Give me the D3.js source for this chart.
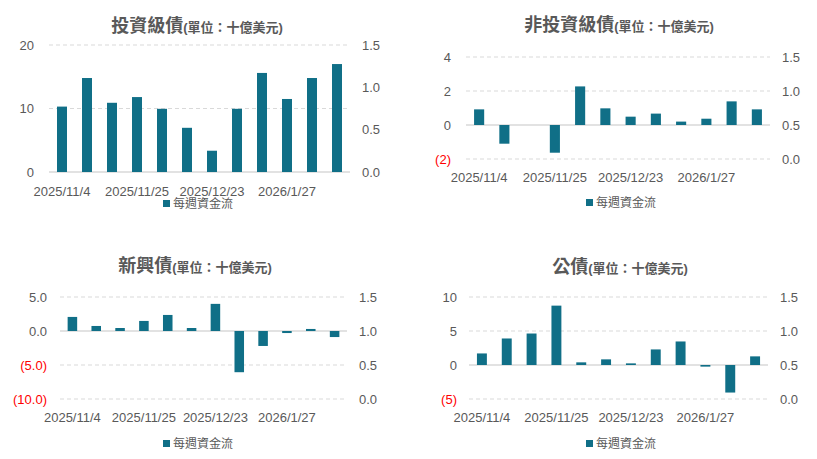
<!DOCTYPE html>
<html>
<head>
<meta charset="utf-8">
<script src="https://cdn.jsdelivr.net/npm/d3@7"></script>
<style>
  body { margin: 0; background: #fff; }
  svg text { font-family: "Liberation Sans", "Noto Sans CJK TC", sans-serif; fill: #595959; }
</style>
</head>
<body>
<div id="chart"></div>
<script>
// weekly dates (only every 3rd one is labelled on the axis)
const weeks = ["2025/11/4", "2025/11/11", "2025/11/18", "2025/11/25", "2025/12/2", "2025/12/9",
               "2025/12/23", "2025/12/30", "2026/1/13", "2026/1/27", "2026/2/3", "2026/2/10"];
const weekLabels = ["2025/11/4", "2025/11/25", "2025/12/23", "2026/1/27"];

// weekly fund flows, USD bn
const invGrade  = [10.3, 14.8, 10.9, 11.8, 9.95, 6.96, 3.35, 9.95, 15.6, 11.5, 14.8, 17.0];
const highYield = [0.92, -1.1, 0, -1.63, 2.27, 0.98, 0.49, 0.67, 0.2, 0.37, 1.39, 0.92];
const emerging  = [2.07, 0.74, 0.44, 1.48, 2.36, 0.44, 3.99, -6.06, -2.2, -0.3, 0.3, -0.89];
const govt      = [1.7, 3.9, 4.63, 8.73, 0.39, 0.83, 0.24, 2.29, 3.46, -0.24, -4.05, 1.27];

const leftTicks1 = [0, 10, 20];
const leftTicks2 = [-2, 0, 2, 4];
const leftTicks3 = [-10, -5, 0, 5];
const leftTicks4 = [-5, 0, 5, 10];
const rightTicks = [0, 0.5, 1.0, 1.5];

const unitText = "(單位：十億美元)";
const legendText = "每週資金流";

const barColor = "#106f87";

const svg = d3.select("#chart").append("svg")
    .attr("width", 817)
    .attr("height", 459);

function drawPanel(p) {
    let g = svg.append("g");

    let x = d3.scaleBand()
        .domain(weeks)
        .range([p.left, p.right])
        .paddingInner(0.6)
        .paddingOuter(0.32);

    let y = d3.scaleLinear()
        .domain([p.ticks[0], p.ticks[p.ticks.length - 1]])
        .range([p.bottom, p.top]);

    let yR = d3.scaleLinear()
        .domain([0, 1.5])
        .range([p.bottom, p.top]);

    // gridlines
    g.selectAll(".grid")
        .data(p.ticks)
        .enter().append("line")
        .attr("x1", p.left)
        .attr("x2", p.right)
        .attr("y1", d => y(d))
        .attr("y2", d => y(d))
        .attr("stroke", "#d9d9d9")
        .attr("stroke-width", d => d === 0 ? 1.3 : 1)
        .attr("stroke-dasharray", d => d === 0 ? null : "4,3");

    // bars
    g.selectAll(".bar")
        .data(p.values)
        .enter().append("rect")
        .attr("x", (d, i) => x(weeks[i]))
        .attr("width", x.bandwidth())
        .attr("y", d => y(Math.max(0, d)))
        .attr("height", d => Math.abs(y(d) - y(0)))
        .attr("fill", barColor);

    // left axis labels
    g.selectAll(".yl")
        .data(p.ticks)
        .enter().append("text")
        .attr("x", p.left - p.lOff)
        .attr("y", d => y(d))
        .attr("dy", "0.35em")
        .attr("text-anchor", "end")
        .style("font-size", "13px")
        .style("fill", d => d < 0 ? "#ff0000" : "#595959")
        .text(d => p.fmt(d));

    // right axis labels
    g.selectAll(".yr")
        .data(rightTicks)
        .enter().append("text")
        .attr("x", p.right + 12)
        .attr("y", d => yR(d))
        .attr("dy", "0.35em")
        .style("font-size", "13px")
        .text(d => d3.format(".1f")(d));

    // date labels
    g.selectAll(".xl")
        .data(weekLabels)
        .enter().append("text")
        .attr("x", d => x(d) + x.bandwidth() / 2)
        .attr("y", p.xLabelY)
        .attr("dy", "0.35em")
        .attr("text-anchor", "middle")
        .style("font-size", "13px")
        .text(d => d);

    // title
    let t = g.append("text")
        .attr("x", p.titleX)
        .attr("y", p.titleY)
        .attr("dy", "0.35em")
        .attr("text-anchor", "middle")
        .style("font-weight", "bold");
    t.append("tspan").style("font-size", "18px").text(p.title);
    t.append("tspan").style("font-size", "13px").text(unitText);

    // legend
    let lg = g.append("g")
        .attr("transform", "translate(" + p.legendX + "," + p.legendY + ")");
    lg.append("rect")
        .attr("x", -35).attr("y", -4)
        .attr("width", 7).attr("height", 7)
        .attr("fill", barColor);
    lg.append("text")
        .attr("x", -25)
        .attr("dy", "0.35em")
        .style("font-size", "12px")
        .text(legendText);
}

drawPanel({title: "投資級債", values: invGrade, ticks: leftTicks1,
    left: 49, right: 350, top: 45, bottom: 172, lOff: 15,
    fmt: d => d3.format("d")(d),
    titleX: 197, titleY: 26, xLabelY: 191, legendX: 198, legendY: 204});

drawPanel({title: "非投資級債", values: highYield, ticks: leftTicks2,
    left: 466, right: 770, top: 57, bottom: 159, lOff: 15,
    fmt: d => d < 0 ? "(" + Math.abs(d) + ")" : String(d),
    titleX: 619, titleY: 25, xLabelY: 177, legendX: 621, legendY: 203});

drawPanel({title: "新興債", values: emerging, ticks: leftTicks3,
    left: 60, right: 347, top: 297, bottom: 399, lOff: 13,
    fmt: d => d < 0 ? "(" + d3.format(".1f")(Math.abs(d)) + ")" : d3.format(".1f")(d),
    titleX: 195, titleY: 266, xLabelY: 417, legendX: 198, legendY: 444});

drawPanel({title: "公債", values: govt, ticks: leftTicks4,
    left: 469, right: 768, top: 297, bottom: 399, lOff: 12,
    fmt: d => d < 0 ? "(" + Math.abs(d) + ")" : String(d),
    titleX: 620, titleY: 267, xLabelY: 417, legendX: 621, legendY: 444});
</script>
</body>
</html>
